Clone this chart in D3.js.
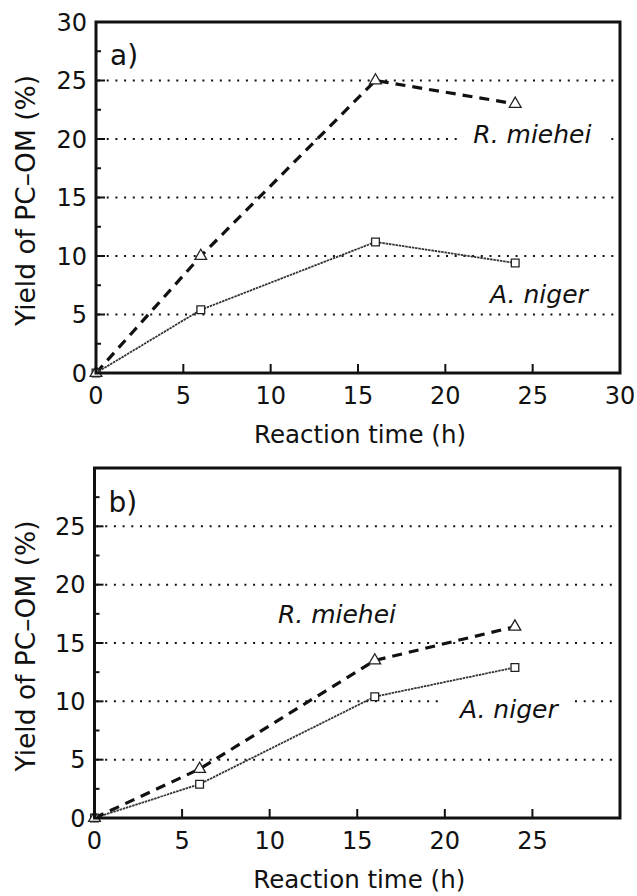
<!DOCTYPE html>
<html>
<head>
<meta charset="utf-8">
<script src="https://cdn.jsdelivr.net/npm/d3@7"></script>
<style>
  body { margin: 0; background: #fff; }
  svg text { font-family: "DejaVu Sans", "Liberation Sans", sans-serif; fill: #111; }
</style>
</head>
<body>
<div id="chart"></div>
<script>
// reaction time points (h)
var timeH = [0, 6, 16, 24];

// panel a) yields (%)
var mieheiA = [0, 10, 25, 23];
var nigerA = [0, 5.4, 11.2, 9.4];

// panel b) yields (%)
var mieheiB = [0, 4.2, 13.5, 16.4];
var nigerB = [0, 2.9, 10.4, 12.9];

// tick labels
var xTicksA = [0, 5, 10, 15, 20, 25, 30];
var xTicksB = [0, 5, 10, 15, 20, 25];
var yTicksA = [0, 5, 10, 15, 20, 25, 30];
var yTicksB = [0, 5, 10, 15, 20, 25];
var gridVals = [5, 10, 15, 20, 25];

var width = 637, height = 896;

var svg = d3.select("#chart").append("svg")
    .attr("width", width)
    .attr("height", height);

/*
 * drawPanel - one framed plot with dotted grid, two series and labels
 */
function drawPanel(cfg) {
    var g = svg.append("g");

    var x = d3.scaleLinear().domain([0, 30]).range([cfg.left, cfg.right]);
    var y = d3.scaleLinear().domain([0, 30]).range([cfg.bottom, cfg.top]);

    // dotted grid
    g.selectAll(".grid")
        .data(gridVals)
        .enter().append("line")
        .attr("class", "grid")
        .attr("x1", x(0) + 2).attr("x2", x(30) - 2)
        .attr("y1", d => y(d)).attr("y2", d => y(d))
        .attr("stroke", "#111")
        .attr("stroke-width", 2)
        .attr("stroke-dasharray", "2,6.7");

    // series lines
    var line = d3.line()
        .x(d => x(d[0]))
        .y(d => y(d[1]));

    var niger = timeH.map((t, i) => [t, cfg.niger[i]]);
    var miehei = timeH.map((t, i) => [t, cfg.miehei[i]]);

    g.append("path")
        .datum(niger)
        .attr("d", line)
        .attr("fill", "none")
        .attr("stroke", "#333")
        .attr("stroke-width", 1.8)
        .attr("stroke-dasharray", "2.5,0.8");

    g.append("path")
        .datum(miehei)
        .attr("d", line)
        .attr("fill", "none")
        .attr("stroke", "#111")
        .attr("stroke-width", 3.2)
        .attr("stroke-dasharray", "10,7");

    // markers
    g.selectAll(".sq")
        .data(niger)
        .enter().append("path")
        .attr("class", "sq")
        .attr("transform", d => "translate(" + x(d[0]) + "," + y(d[1]) + ")")
        .attr("d", d3.symbol().type(d3.symbolSquare).size(60))
        .attr("fill", "#fff")
        .attr("stroke", "#222")
        .attr("stroke-width", 1.3);

    g.selectAll(".tri")
        .data(miehei)
        .enter().append("path")
        .attr("class", "tri")
        .attr("transform", d => "translate(" + x(d[0]) + "," + y(d[1]) + ")")
        .attr("d", d3.symbol().type(d3.symbolTriangle).size(60))
        .attr("fill", "#fff")
        .attr("stroke", "#222")
        .attr("stroke-width", 1.3);

    // frame
    g.append("rect")
        .attr("x", x(0)).attr("y", y(30))
        .attr("width", x(30) - x(0))
        .attr("height", y(0) - y(30))
        .attr("fill", "none")
        .attr("stroke", "#111")
        .attr("stroke-width", 3);

    // inward ticks on y (major + minor) and x
    var yMinor = d3.range(0, 30.01, 2.5);
    g.selectAll(".ytick")
        .data(yMinor)
        .enter().append("line")
        .attr("x1", x(0))
        .attr("x2", d => x(0) + (d % 5 === 0 ? 9 : 5))
        .attr("y1", d => y(d)).attr("y2", d => y(d))
        .attr("stroke", "#111")
        .attr("stroke-width", 2);

    g.selectAll(".xtick")
        .data(d3.range(5, 30, 5))
        .enter().append("line")
        .attr("x1", d => x(d)).attr("x2", d => x(d))
        .attr("y1", y(0)).attr("y2", y(0) - 9)
        .attr("stroke", "#111")
        .attr("stroke-width", 2);

    // tick labels
    g.selectAll(".ylab")
        .data(cfg.yTicks)
        .enter().append("text")
        .attr("x", x(0) - 9)
        .attr("y", d => y(d))
        .attr("dy", "0.36em")
        .style("text-anchor", "end")
        .style("font-size", "24px")
        .text(d => d);

    g.selectAll(".xlab")
        .data(cfg.xTicks)
        .enter().append("text")
        .attr("x", d => x(d))
        .attr("y", y(0) + 31)
        .style("text-anchor", "middle")
        .style("font-size", "24px")
        .text(d => d);

    // axis titles
    g.append("text")
        .attr("x", (x(0) + x(30)) / 2 + 2)
        .attr("y", y(0) + 70)
        .style("text-anchor", "middle")
        .style("font-size", "24.5px")
        .text("Reaction time (h)");

    g.append("text")
        .attr("transform", "translate(35," + ((y(0) + y(30)) / 2 + 3) + ") rotate(-90)")
        .style("text-anchor", "middle")
        .style("font-size", "26.5px")
        .text("Yield of PC\u2013OM (%)");

    // panel tag
    g.append("text")
        .attr("x", x(0) + 14)
        .attr("y", cfg.tagY)
        .style("font-size", "28px")
        .text(cfg.tag);

    // species labels with white knock-out behind them
    cfg.labels.forEach(function(l) {
        var t = g.append("text")
            .attr("x", x(l.x))
            .attr("y", y(l.y))
            .style("font-size", "25px")
            .style("font-style", "italic")
            .text(l.text);
        var bb = t.node().getBBox();
        g.insert("rect", function() { return t.node(); })
            .attr("x", bb.x - 16).attr("y", bb.y + 2)
            .attr("width", bb.width + 30).attr("height", bb.height - 4)
            .attr("fill", "#fff");
    });
}

drawPanel({
    left: 96, right: 620, top: 22, bottom: 373,
    miehei: mieheiA, niger: nigerA,
    xTicks: xTicksA, yTicks: yTicksA,
    tag: "a)", tagY: 65,
    labels: [
        { text: "R. miehei", x: 21.6, y: 19.66 },
        { text: "A. niger", x: 22.56, y: 5.98 }
    ]
});

drawPanel({
    left: 94.5, right: 620, top: 468, bottom: 818,
    miehei: mieheiB, niger: nigerB,
    xTicks: xTicksB, yTicks: yTicksB,
    tag: "b)", tagY: 512,
    labels: [
        { text: "R. miehei", x: 10.47, y: 16.71 },
        { text: "A. niger", x: 20.86, y: 8.57 }
    ]
});
</script>
</body>
</html>
